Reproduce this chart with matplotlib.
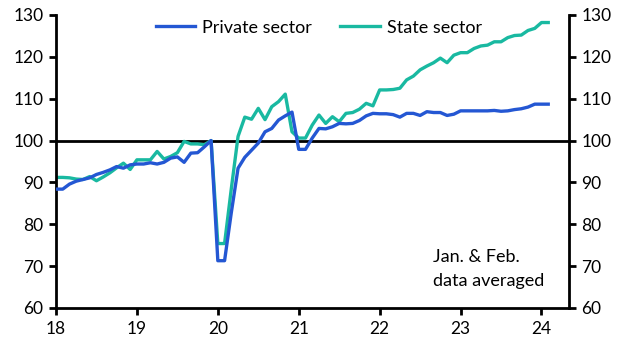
import numpy as np
import matplotlib
matplotlib.use("Agg")
import matplotlib.pyplot as plt

# Indices mensuels, janv. 2018 -> fév. 2024 (janv. et fév. moyennés)
prive = [88.4, 88.4, 89.6, 90.3, 90.7, 91.1, 91.9, 92.4, 93.0, 93.8, 93.4, 94.2,
         94.4, 94.4, 94.7, 94.4, 94.8, 95.8, 96.1, 94.8, 97.0, 97.1, 98.5, 100.0,
         71.3, 71.3, 82.8, 93.4, 96.0, 97.7, 99.4, 102.1, 102.9, 104.9, 105.9, 106.8,
         97.9, 97.9, 100.6, 102.9, 102.8, 103.3, 104.1, 104.0, 104.1, 104.8, 105.9, 106.5,
         106.4, 106.4, 106.2, 105.6, 106.5, 106.5, 106.0, 106.9, 106.7, 106.7, 106.0, 106.3,
         107.1, 107.1, 107.1, 107.1, 107.1, 107.2, 107.0, 107.1, 107.4, 107.6, 108.0, 108.7,
         108.7, 108.7]
etat = [91.2, 91.2, 91.1, 90.8, 90.7, 91.4, 90.4, 91.3, 92.3, 93.5, 94.6, 93.1,
        95.4, 95.4, 95.4, 97.4, 95.6, 96.2, 97.1, 99.8, 99.2, 99.2, 99.0, 100.0,
        75.4, 75.4, 88.5, 101.0, 105.6, 105.1, 107.7, 105.0, 108.1, 109.3, 111.1, 102.1,
        100.6, 100.6, 103.7, 106.1, 104.1, 105.7, 104.5, 106.5, 106.7, 107.5, 108.9, 108.3,
        112.1, 112.1, 112.2, 112.5, 114.5, 115.4, 116.9, 117.8, 118.6, 119.7, 118.6, 120.4,
        121.0, 121.0, 122.0, 122.6, 122.8, 123.6, 123.6, 124.6, 125.1, 125.2, 126.3, 126.8,
        128.2, 128.2]
annees = [18, 19, 20, 21, 22, 23, 24]
graduations_y = [60, 70, 80, 90, 100, 110, 120, 130]

x = annees[0] + np.arange(len(prive)) / 12

plt.rcParams['font.family'] = ['Lato', 'DejaVu Sans']
plt.rcParams['font.size'] = 12.5

fig = plt.figure(figsize=(6.28, 3.53), dpi=100)
ax = fig.add_axes([56 / 628, 45 / 353, 513 / 628, 293 / 353])

ax.axhline(100, color='black', lw=2, zorder=1)
ax.plot(x, prive, color='#2457d3', lw=2.4, label='Private sector', zorder=3)
ax.plot(x, etat, color='#19b9a1', lw=2.4, label='State sector', zorder=2)

ax.set_xlim(18, 24.34)
ax.set_ylim(60, 130)
ax.set_xticks(annees)
ax.set_xticklabels([str(a) for a in annees])
ax.set_yticks(graduations_y)

ax.spines['top'].set_visible(False)
for cote in ['left', 'right', 'bottom']:
    ax.spines[cote].set_linewidth(2)

ax.tick_params(axis='both', direction='out', length=5, width=2, pad=4)
ax.tick_params(axis='y', which='both', right=True, labelright=True)

ax.text(22.66, 69.3, "Jan. & Feb.\ndata averaged", fontsize=13, va='center',
        ha='left', linespacing=1.55)

ax.legend(loc='upper center', bbox_to_anchor=(0.512, 1.04), ncol=2, frameon=False,
          handlelength=2.2, columnspacing=1.6, handletextpad=0.35, fontsize=13)

fig.savefig('out.png', dpi=100)
